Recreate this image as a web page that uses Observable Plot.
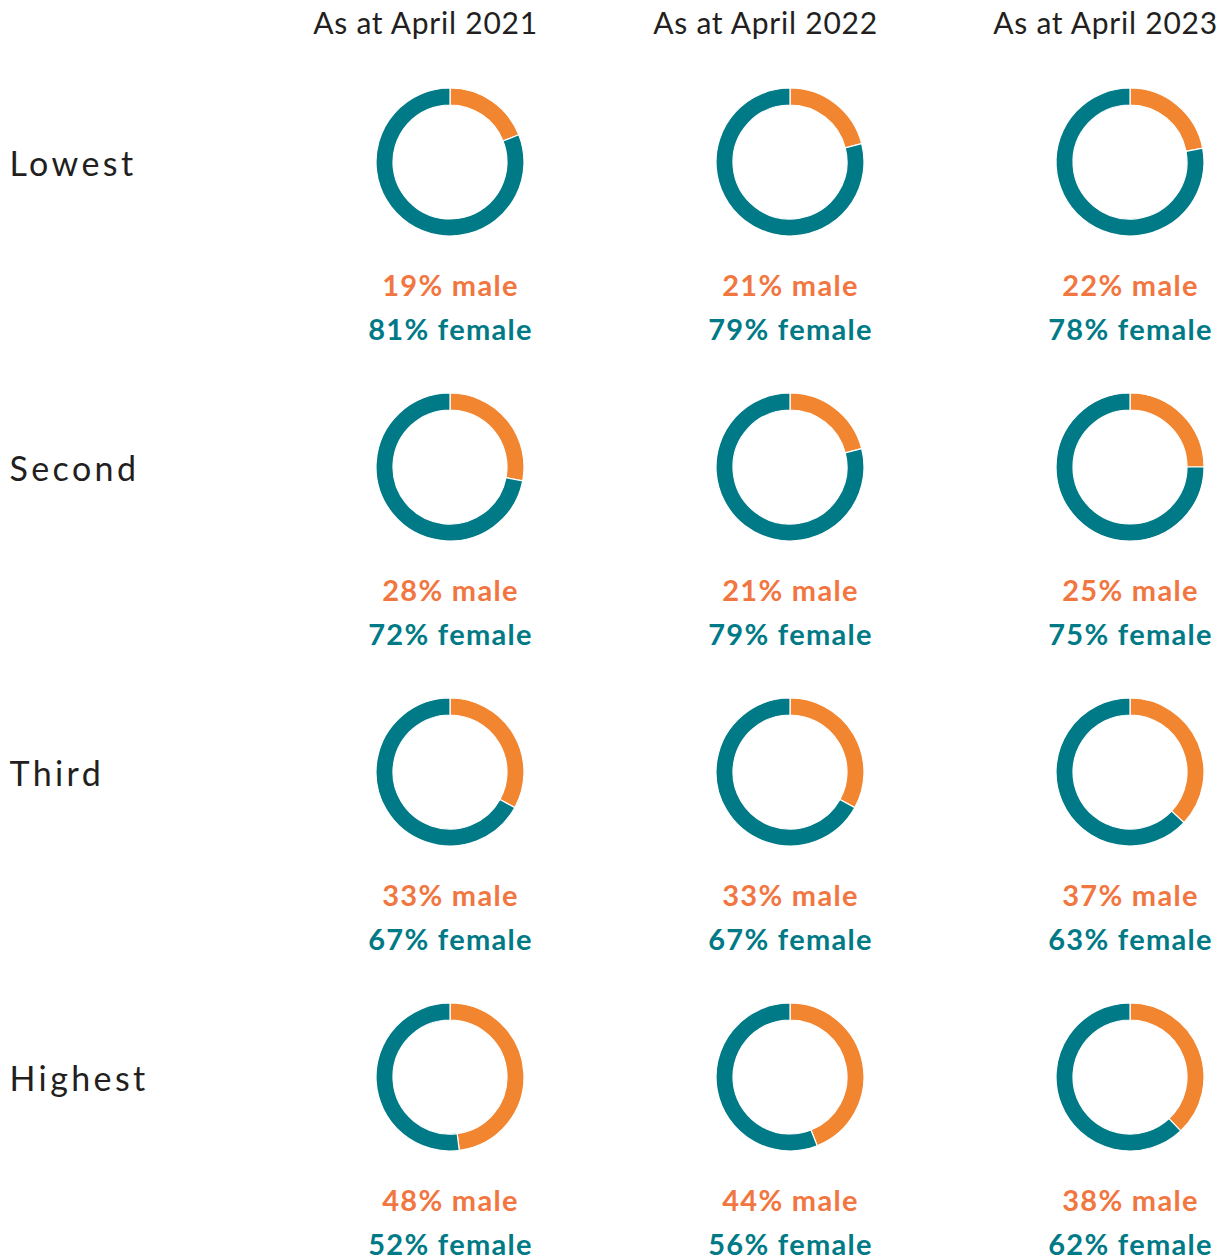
<!DOCTYPE html>
<html>
<head>
<meta charset="utf-8">
<script src="https://cdn.jsdelivr.net/npm/d3@7"></script>
<script src="https://cdn.jsdelivr.net/npm/@observablehq/plot@0.6"></script>
<style>
  html, body { margin: 0; padding: 0; background: #fff; }
  #chart svg { display: block; }
</style>
</head>
<body>
<div id="chart"></div>
<script>
const years = ["2021", "2022", "2023"];
const headers = ["As at April 2021", "As at April 2022", "As at April 2023"];
const rows = ["Lowest", "Second", "Third", "Highest"];
const male2021 = [19, 28, 33, 48];
const female2021 = [81, 72, 67, 52];
const male2022 = [21, 21, 33, 44];
const female2022 = [79, 79, 67, 56];
const male2023 = [22, 25, 37, 38];
const female2023 = [78, 75, 63, 62];

const maleByYear = {"2021": male2021, "2022": male2022, "2023": male2023};
const femaleByYear = {"2021": female2021, "2022": female2022, "2023": female2023};

const table = [];
years.forEach(yr => rows.forEach((r, i) => {
  table.push({year: yr, row: r, male: maleByYear[yr][i], female: femaleByYear[yr][i]});
}));
const headerData = years.map((yr, i) => ({year: yr, label: headers[i]}));

const ORANGE = "#F28530";
const ORANGE_TEXT = "#F1763F";
const TEAL = "#007A86";
const INK = "#231F20";
const FONT = "Lato, 'Open Sans', sans-serif";

function donuts(index, scales, values, dimensions, context) {
  const g = d3.create("svg:g");
  const arc = d3.arc().innerRadius(57).outerRadius(74);
  for (const d of table) {
    const cx = scales.x(d.year), cy = scales.y(d.row);
    const total = d.male + d.female;
    const a = d.male / total * 2 * Math.PI;
    const slices = [
      {start: 0, end: a, fill: ORANGE},
      {start: a, end: 2 * Math.PI, fill: TEAL}
    ];
    const gg = g.append("g").attr("transform", `translate(${cx},${cy})`);
    for (const s of slices) {
      gg.append("path")
        .attr("d", arc({startAngle: s.start, endAngle: s.end}))
        .attr("fill", s.fill)
        .attr("stroke", "#fff")
        .attr("stroke-width", 1.2);
    }
  }
  return g.node();
}

const chart = Plot.plot({
  width: 1230,
  height: 1258,
  margin: 0,
  style: {fontFamily: FONT, background: "#fff"},
  x: {type: "point", domain: years, range: [450, 1130], padding: 0, axis: null},
  y: {type: "point", domain: rows, range: [162, 1077], padding: 0, axis: null},
  marks: [
    donuts,
    Plot.text(table, {
      x: "year", y: "row", dy: 124,
      text: d => `${d.male}% male`,
      fill: ORANGE_TEXT, fontSize: 29, fontWeight: 700, textAnchor: "middle"
    }),
    Plot.text(table, {
      x: "year", y: "row", dy: 168,
      text: d => `${d.female}% female`,
      fill: TEAL, fontSize: 29, fontWeight: 700, textAnchor: "middle"
    }),
    Plot.text(rows, {
      y: d => d, frameAnchor: "left", dx: 9, dy: 3,
      text: d => d, textAnchor: "start",
      fill: INK, fontSize: 34, fontWeight: 400
    }),
    Plot.text(headerData, {
      x: "year", frameAnchor: "top", lineAnchor: "middle", dy: 24, dx: -25,
      text: "label", textAnchor: "middle",
      fill: INK, fontSize: 30, fontWeight: 400
    })
  ]
});
// letter spacing per text group (male, female, row labels, headers)
const spacing = [1.3, 1.3, 3.4, 0.75];
const groups = chart.querySelectorAll('g[aria-label="text"]');
groups.forEach((g, i) => {
  if (spacing[i] != null) g.setAttribute("letter-spacing", spacing[i]);
});
document.getElementById("chart").appendChild(chart);
</script>
</body>
</html>
